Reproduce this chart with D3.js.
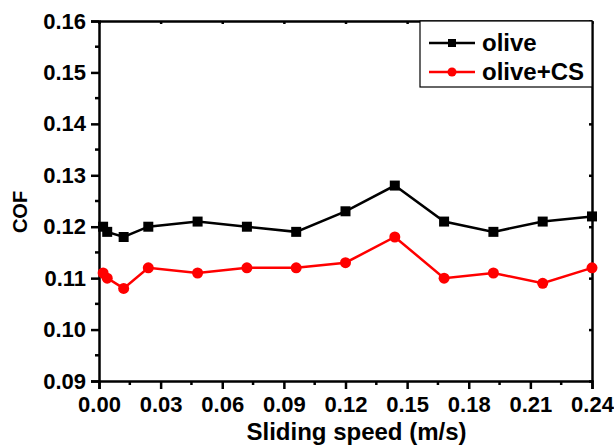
<!DOCTYPE html>
<html>
<head>
<meta charset="utf-8">
<script src="https://cdn.jsdelivr.net/npm/d3@7"></script>
<style>
  body { margin: 0; background: #fff; }
  text { font-family: "Liberation Sans", Arial, sans-serif; font-weight: bold; }
</style>
</head>
<body>
<svg id="chart" width="614" height="447"></svg>
<script>
// sliding speed (m/s)
var speed = [0.002, 0.004, 0.012, 0.024, 0.048, 0.072, 0.096, 0.12, 0.144, 0.168, 0.192, 0.216, 0.24];
var olive = [0.120, 0.119, 0.118, 0.120, 0.121, 0.120, 0.119, 0.123, 0.128, 0.121, 0.119, 0.121, 0.122];
var oliveCS = [0.111, 0.110, 0.108, 0.112, 0.111, 0.112, 0.112, 0.113, 0.118, 0.110, 0.111, 0.109, 0.112];
var xTicks = [0, 0.03, 0.06, 0.09, 0.12, 0.15, 0.18, 0.21, 0.24];
var yTicks = [0.09, 0.10, 0.11, 0.12, 0.13, 0.14, 0.15, 0.16];
var seriesNames = ['olive', 'olive+CS'];

var margin = {left: 99, right: 22, top: 21, bottom: 66};
var W = 614, H = 447;
var svg = d3.select('#chart');

var x = d3.scaleLinear().domain([0, 0.24]).range([margin.left, W - margin.right]);
var y = d3.scaleLinear().domain([0.09, 0.16]).range([H - margin.bottom, margin.top]);

// minor ticks (halfway between majors)
var xMinor = d3.range(0.015, 0.24, 0.03);
var yMinor = d3.range(0.095, 0.16, 0.01);

var g = svg.append('g');

// bottom axis
var xAxis = g.append('g').attr('transform', 'translate(0,' + y(0.09) + ')')
    .call(d3.axisBottom(x).tickValues(xTicks).tickFormat(d3.format('.2f')).tickSize(8).tickPadding(6));
xAxis.append('g').selectAll('line').data(xMinor).enter().append('line')
    .attr('x1', d => x(d)).attr('x2', d => x(d)).attr('y1', 0).attr('y2', 4);

// left axis
var yAxis = g.append('g').attr('transform', 'translate(' + x(0) + ',0)')
    .call(d3.axisLeft(y).tickValues(yTicks).tickFormat(d3.format('.2f')).tickSize(8).tickPadding(5));
yAxis.append('g').selectAll('line').data(yMinor).enter().append('line')
    .attr('x1', 0).attr('x2', -4).attr('y1', d => y(d)).attr('y2', d => y(d));

// top + right frame
g.append('g').attr('transform', 'translate(0,' + y(0.16) + ')')
    .call(d3.axisTop(x).tickValues(xTicks).tickFormat('').tickSizeInner(-3).tickSizeOuter(0));
g.append('g').attr('transform', 'translate(' + x(0.24) + ',0)')
    .call(d3.axisRight(y).tickValues(yTicks).tickFormat('').tickSizeInner(-3).tickSizeOuter(0));

g.selectAll('.domain, .tick line').attr('stroke', '#000').attr('stroke-width', 2.5);
g.selectAll('line').attr('stroke', '#000').attr('stroke-width', 2.5);
g.selectAll('.tick text').attr('fill', '#000').style('font-size', '22px');
xAxis.selectAll('.tick text').attr('dy', '0.75em');

// axis titles
svg.append('text').attr('x', (x(0) + x(0.24)) / 2 + 11).attr('y', 440)
    .attr('text-anchor', 'middle').style('font-size', '24px').text('Sliding speed (m/s)');
svg.append('text').attr('transform', 'translate(27,212) rotate(-90)')
    .attr('text-anchor', 'middle').style('font-size', '20px').text('COF');

var line = d3.line().x((d, i) => x(speed[i])).y(d => y(d));

// olive
svg.append('path').datum(olive).attr('d', line)
    .attr('fill', 'none').attr('stroke', '#000').attr('stroke-width', 2.5);
svg.selectAll('.sq').data(olive).enter().append('rect')
    .attr('x', (d, i) => x(speed[i]) - 5).attr('y', d => y(d) - 5)
    .attr('width', 10).attr('height', 10).attr('fill', '#000');

// olive+CS
svg.append('path').datum(oliveCS).attr('d', line)
    .attr('fill', 'none').attr('stroke', '#ff0000').attr('stroke-width', 2.5);
svg.selectAll('.ci').data(oliveCS).enter().append('circle')
    .attr('cx', (d, i) => x(speed[i])).attr('cy', d => y(d))
    .attr('r', 5.5).attr('fill', '#ff0000');

// legend
var lg = svg.append('g');
lg.append('rect').attr('x', 420).attr('y', 21).attr('width', 172).attr('height', 66)
    .attr('fill', '#fff').attr('stroke', '#000').attr('stroke-width', 1.2);
var colors = ['#000', '#ff0000'];
seriesNames.forEach(function (name, i) {
    var ly = 43 + i * 29;
    lg.append('line').attr('x1', 429).attr('x2', 475).attr('y1', ly).attr('y2', ly)
        .attr('stroke', colors[i]).attr('stroke-width', 2.5);
    if (i == 0) {
        lg.append('rect').attr('x', 448).attr('y', ly - 4).attr('width', 8).attr('height', 8).attr('fill', '#000');
    } else {
        lg.append('circle').attr('cx', 452).attr('cy', ly).attr('r', 4.5).attr('fill', '#ff0000');
    }
    lg.append('text').attr('x', 482).attr('y', ly + 8).style('font-size', '24px').text(name);
});
</script>
</body>
</html>
